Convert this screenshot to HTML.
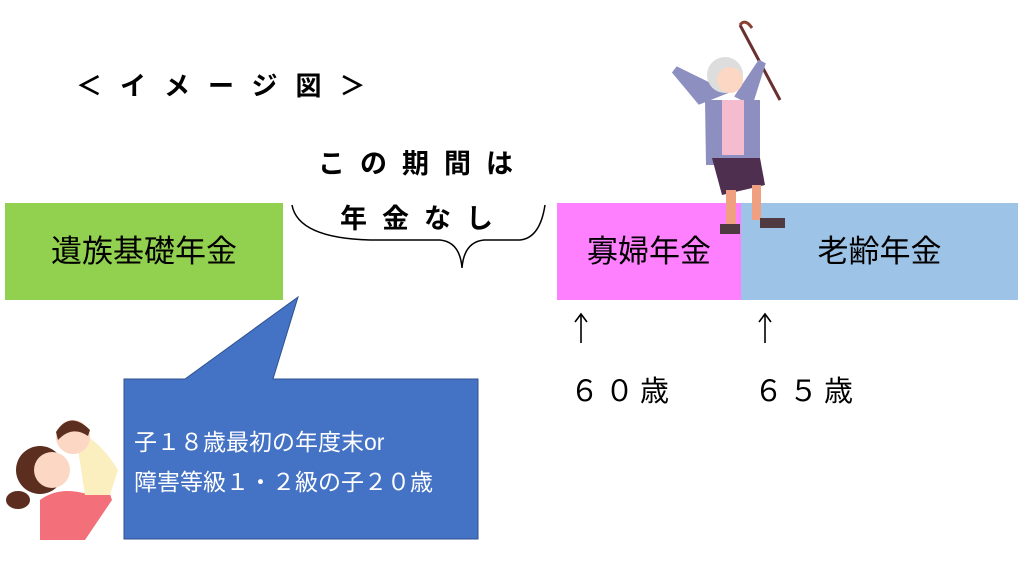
<!DOCTYPE html>
<html><head><meta charset="utf-8"><style>
body{margin:0;width:1024px;height:576px;background:#fff;position:relative;overflow:hidden;font-family:"Liberation Sans","Noto Sans CJK JP",sans-serif}
.a{position:absolute;white-space:nowrap}
</style></head><body>
<div class="a" style="left:76px;top:66px;font-size:26px;font-weight:bold;letter-spacing:18px">＜イメージ図＞</div>
<div class="a" style="left:318px;top:142px;font-size:27px;font-weight:bold;letter-spacing:15px">この期間は</div>
<div class="a" style="left:340px;top:197px;font-size:27px;font-weight:bold;letter-spacing:15px">年金なし</div>
<svg class="a" style="left:0;top:0" width="1024" height="576">
<path d="M292 205 Q298 238 370 240 L440 240 Q460 242 462 268 Q464 242 484 240 L520 240 Q540 238 545 205" fill="none" stroke="#000" stroke-width="1.5"/>
<path d="M124 379 L185 379 L298 297 L273 379 L478 379 L478 539 L124 539 Z" fill="#4472c4" stroke="#2f528f" stroke-width="1"/>
<path d="M40 540 L40 500 Q60 485 90 495 L108 488 L112 500 L85 540 Z" fill="#f3707a"/>
<circle cx="40" cy="470" r="24" fill="#5c2e20"/>
<ellipse cx="18" cy="500" rx="12" ry="9" fill="#5c2e20"/>
<circle cx="52" cy="470" r="18" fill="#fbd7c4"/>
<path d="M75 430 Q100 440 118 470 L110 495 L85 495 Z" fill="#fbefc0"/>
<circle cx="73" cy="437" r="17" fill="#fbd7c4"/>
<path d="M56 432 Q70 410 90 430 L88 436 Q72 425 58 440Z" fill="#5c2e20"/>
<line x1="740" y1="25" x2="780" y2="100" stroke="#6a3030" stroke-width="3"/>
<path d="M740 25 Q745 18 752 28" fill="none" stroke="#8a4030" stroke-width="3"/>
<path d="M675 70 L700 100 L720 92 Z" fill="#8c8fc0" stroke="#8c8fc0" stroke-width="8"/>
<path d="M762 62 L750 100 L740 95 Z" fill="#8c8fc0" stroke="#8c8fc0" stroke-width="8"/>
<circle cx="725" cy="75" r="18" fill="#ddd"/>
<circle cx="730" cy="80" r="13" fill="#fbd7c4"/>
<path d="M705 100 L760 100 L760 165 L706 165 Z" fill="#8c8fc0"/>
<rect x="722" y="100" width="22" height="55" fill="#f5bcd0"/>
<path d="M712 158 L760 158 L765 185 L722 195 Z" fill="#4e2f50"/>
<rect x="726" y="190" width="10" height="35" fill="#f0a080"/>
<rect x="752" y="185" width="9" height="35" fill="#f0a080"/>
</svg>
<div class="a" style="left:5px;top:203px;width:278px;height:97px;background:#92d050;font-size:31px;line-height:97px;text-align:center">遺族基礎年金</div>
<div class="a" style="left:557px;top:203px;width:184px;height:97px;background:#ff80ff;font-size:31px;line-height:97px;text-align:center">寡婦年金</div>
<div class="a" style="left:741px;top:203px;width:277px;height:97px;background:#9dc3e6;font-size:31px;line-height:97px;text-align:center">老齢年金</div>
<svg class="a" style="left:0;top:0" width="1024" height="576">
<rect x="726" y="200" width="10" height="25" fill="#f0a080"/><rect x="720" y="224" width="20" height="10" fill="#4e3a40"/>
<rect x="752" y="200" width="9" height="20" fill="#f0a080"/><rect x="760" y="218" width="25" height="10" fill="#4e3a40"/>
<g stroke="#000" stroke-width="1.6" fill="none">
<line x1="581" y1="315" x2="581" y2="343"/><path d="M575 322 L581 314 L587 322"/>
<line x1="765" y1="315" x2="765" y2="343"/><path d="M759 322 L765 314 L771 322"/>
</g>
</svg>
<div class="a" style="left:570px;top:368px;font-size:29px;letter-spacing:6px">６０歳</div>
<div class="a" style="left:754px;top:368px;font-size:29px;letter-spacing:6px">６５歳</div>
<div class="a" style="left:134px;top:423px;font-size:23px;color:#fff">子１８歳最初の年度末or</div>
<div class="a" style="left:134px;top:463px;font-size:23px;color:#fff">障害等級１・２級の子２０歳</div>
</body></html>
